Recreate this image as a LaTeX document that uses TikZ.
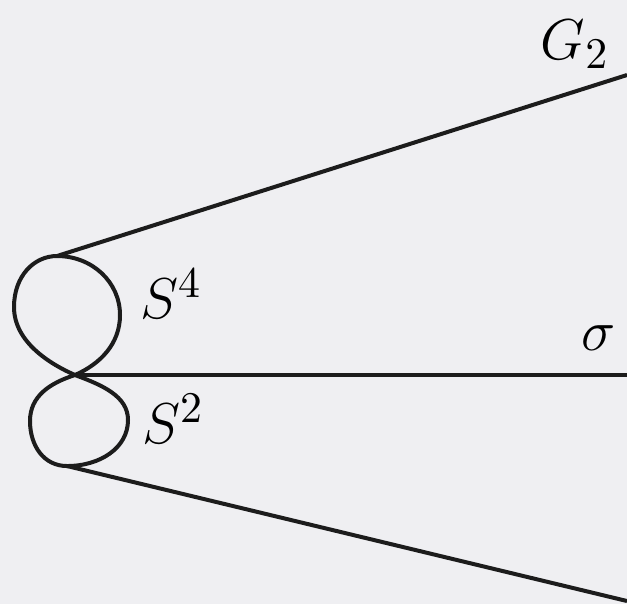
\documentclass[tikz,border=0pt]{standalone}
\usetikzlibrary{positioning}
\definecolor{paper}{RGB}{239,239,242}
\definecolor{ink}{RGB}{28,28,28}
\begin{document}
\begin{tikzpicture}[
        x=0.25pt, y=0.25pt,
        curve/.style={draw=ink, line width=1pt, line join=round},
        lbl/.style={font=\fontsize{15.5}{18}\selectfont, inner sep=0pt}
    ]
        \fill[paper] (0,0) rectangle (627,604);
        \useasboundingbox (0,0) rectangle (627,604);

        % crossing point and ends of the two loops
        \coordinate (c)  at (75,229);
        \coordinate (l4) at (14,297);
        \coordinate (t4) at (57,348);
        \coordinate (r4) at (120,289);
        \coordinate (l2) at (30,183);
        \coordinate (r2) at (128,184);
        \coordinate (b2) at (67,138);
        \coordinate (g2end)  at (627,529);
        \coordinate (sigend) at (627,229);
        \coordinate (lowend) at (627,3);

        \draw[curve] (c) .. controls (50,240) and (14,262) .. (l4)
              .. controls (14,328) and (34,348) .. (t4)
              .. controls (92,348) and (120,322) .. (r4)
              .. controls (120,260) and (100,240) .. (c);
        \draw[curve] (c) .. controls (102,219) and (128,208) .. (r2)
              .. controls (128,156) and (100,138) .. (b2)
              .. controls (44,138) and (30,158) .. (l2)
              .. controls (30,208) and (50,221) .. (c);

        \draw[curve] (t4) -- (g2end);
        \draw[curve] (c) -- (sigend);
        \draw[curve] (b2) -- (lowend);

        \node[lbl] (s4)  at (171,310) {$S^4$};
        \node[lbl] (s2)  at (173,185) {$S^2$};
        \node[lbl] (sig) at (599,266) {$\sigma$};
        \node[lbl] (g2)  at (575,560) {$G_2$};
\end{tikzpicture}
\end{document}
